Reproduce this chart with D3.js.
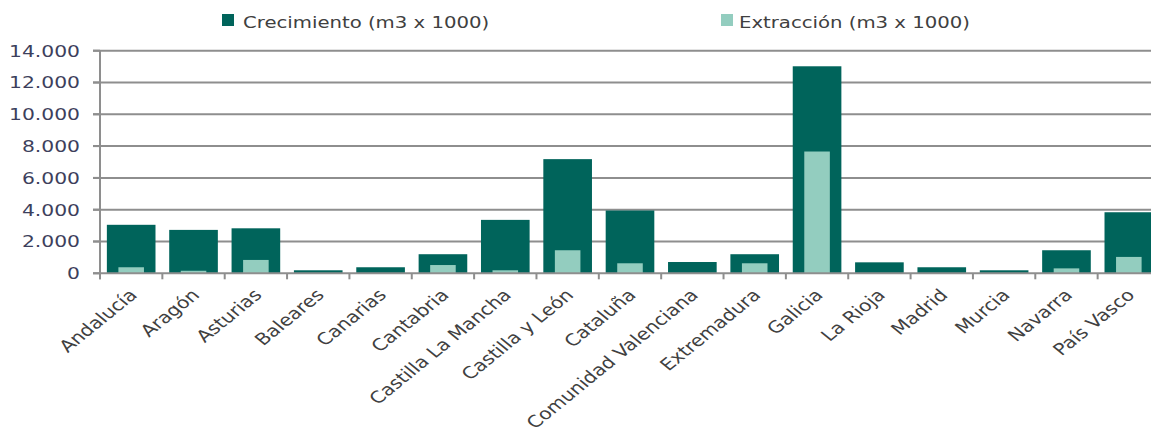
<!DOCTYPE html>
<html>
<head>
<meta charset="utf-8">
<script src="https://cdn.jsdelivr.net/npm/d3@7"></script>
<style>
  html, body { margin: 0; padding: 0; background: #ffffff; }
  svg { display: block; }
  text { font-family: "DejaVu Sans", sans-serif; }
</style>
</head>
<body>
<div id="chart"></div>
<script>
const categories = ["Andalucía","Aragón","Asturias","Baleares","Canarias","Cantabria","Castilla La Mancha","Castilla y León","Cataluña","Comunidad Valenciana","Extremadura","Galicia","La Rioja","Madrid","Murcia","Navarra","País Vasco"];
const crecimiento = [3050,2730,2830,190,380,1200,3360,7180,3950,710,1200,13020,690,380,190,1450,3840];
const extraccion = [380,160,840,0,0,520,190,1450,630,0,630,7660,0,0,0,310,1030];
const yTicks = [0,2000,4000,6000,8000,10000,12000,14000];
const yTickLabels = ["0","2.000","4.000","6.000","8.000","10.000","12.000","14.000"];
const seriesNames = ["Crecimiento (m3 x 1000)","Extracción (m3 x 1000)"];

const W = 1151, H = 438;
const SX = 1.23; // horizontal stretch of the reference picture
const darkColor = "#00645b";
const lightColor = "#93cdbf";
const gridColor = "#8e8e8e";

const svg = d3.select("#chart").append("svg").attr("width", W).attr("height", H);

const x0 = 100, x1 = 1160;
const x = d3.scaleBand().domain(categories).range([x0, x1]).paddingInner(0.22).paddingOuter(0.11);
const step = x.step();
const y = d3.scaleLinear().domain([0, 14000]).range([273.3, 50.7]);

// gridlines
svg.append("g").selectAll("line").data(yTicks.filter(d => d > 0)).join("line")
  .attr("x1", 93).attr("x2", W)
  .attr("y1", d => y(d)).attr("y2", d => y(d))
  .attr("stroke", gridColor).attr("stroke-width", 2);

// y tick labels
svg.append("g").selectAll("text").data(yTicks).join("text")
  .attr("transform", d => `translate(80,${y(d)}) scale(${SX},1)`)
  .attr("text-anchor", "end").attr("dy", "0.36em")
  .attr("font-size", 16.5).attr("fill", "#3d3f5c")
  .text((d, i) => yTickLabels[i]);

// bars: growth
svg.append("g").selectAll("rect").data(categories).join("rect")
  .attr("x", d => x(d)).attr("width", x.bandwidth())
  .attr("y", (d, i) => y(crecimiento[i]))
  .attr("height", (d, i) => y(0) - y(crecimiento[i]))
  .attr("fill", darkColor);

// bars: extraction (narrower, centred)
const innerW = step * 0.41;
svg.append("g").selectAll("rect").data(categories).join("rect")
  .attr("x", d => x(d) + x.bandwidth() / 2 - innerW / 2).attr("width", innerW)
  .attr("y", (d, i) => y(extraccion[i]))
  .attr("height", (d, i) => y(0) - y(extraccion[i]))
  .attr("fill", lightColor);

// baseline + y axis line
svg.append("line").attr("x1", 93).attr("x2", W).attr("y1", y(0)).attr("y2", y(0))
  .attr("stroke", gridColor).attr("stroke-width", 2);
svg.append("line").attr("x1", x0).attr("x2", x0).attr("y1", y(14000)).attr("y2", y(0) + 6)
  .attr("stroke", gridColor).attr("stroke-width", 2);
// y tick marks
svg.append("g").selectAll("line").data(yTicks).join("line")
  .attr("x1", 93).attr("x2", x0).attr("y1", d => y(d)).attr("y2", d => y(d))
  .attr("stroke", gridColor).attr("stroke-width", 2);

// category boundary ticks
svg.append("g").selectAll("line").data(d3.range(categories.length + 1)).join("line")
  .attr("x1", i => x0 + i * step).attr("x2", i => x0 + i * step)
  .attr("y1", y(0)).attr("y2", y(0) + 6)
  .attr("stroke", gridColor).attr("stroke-width", 2);

// x labels
svg.append("g").selectAll("text").data(categories).join("text")
  .attr("transform", d => `translate(${x(d) + x.bandwidth() / 2 + 7},296) scale(${SX},1) rotate(-45)`)
  .attr("text-anchor", "end")
  .attr("font-size", 16.5).attr("fill", "#404040")
  .text(d => d);

// legend
const legendItems = [
  {name: seriesNames[0], color: darkColor, sx: 222, tx: 243},
  {name: seriesNames[1], color: lightColor, sx: 721, tx: 739}
];
const lg = svg.append("g");
lg.selectAll("rect").data(legendItems).join("rect")
  .attr("x", d => d.sx).attr("y", 14).attr("width", 12).attr("height", 12)
  .attr("fill", d => d.color);
lg.selectAll("text").data(legendItems).join("text")
  .attr("transform", d => `translate(${d.tx},28) scale(${SX},1)`)
  .attr("font-size", 16).attr("fill", "#404040")
  .text(d => d.name);
</script>
</body>
</html>
